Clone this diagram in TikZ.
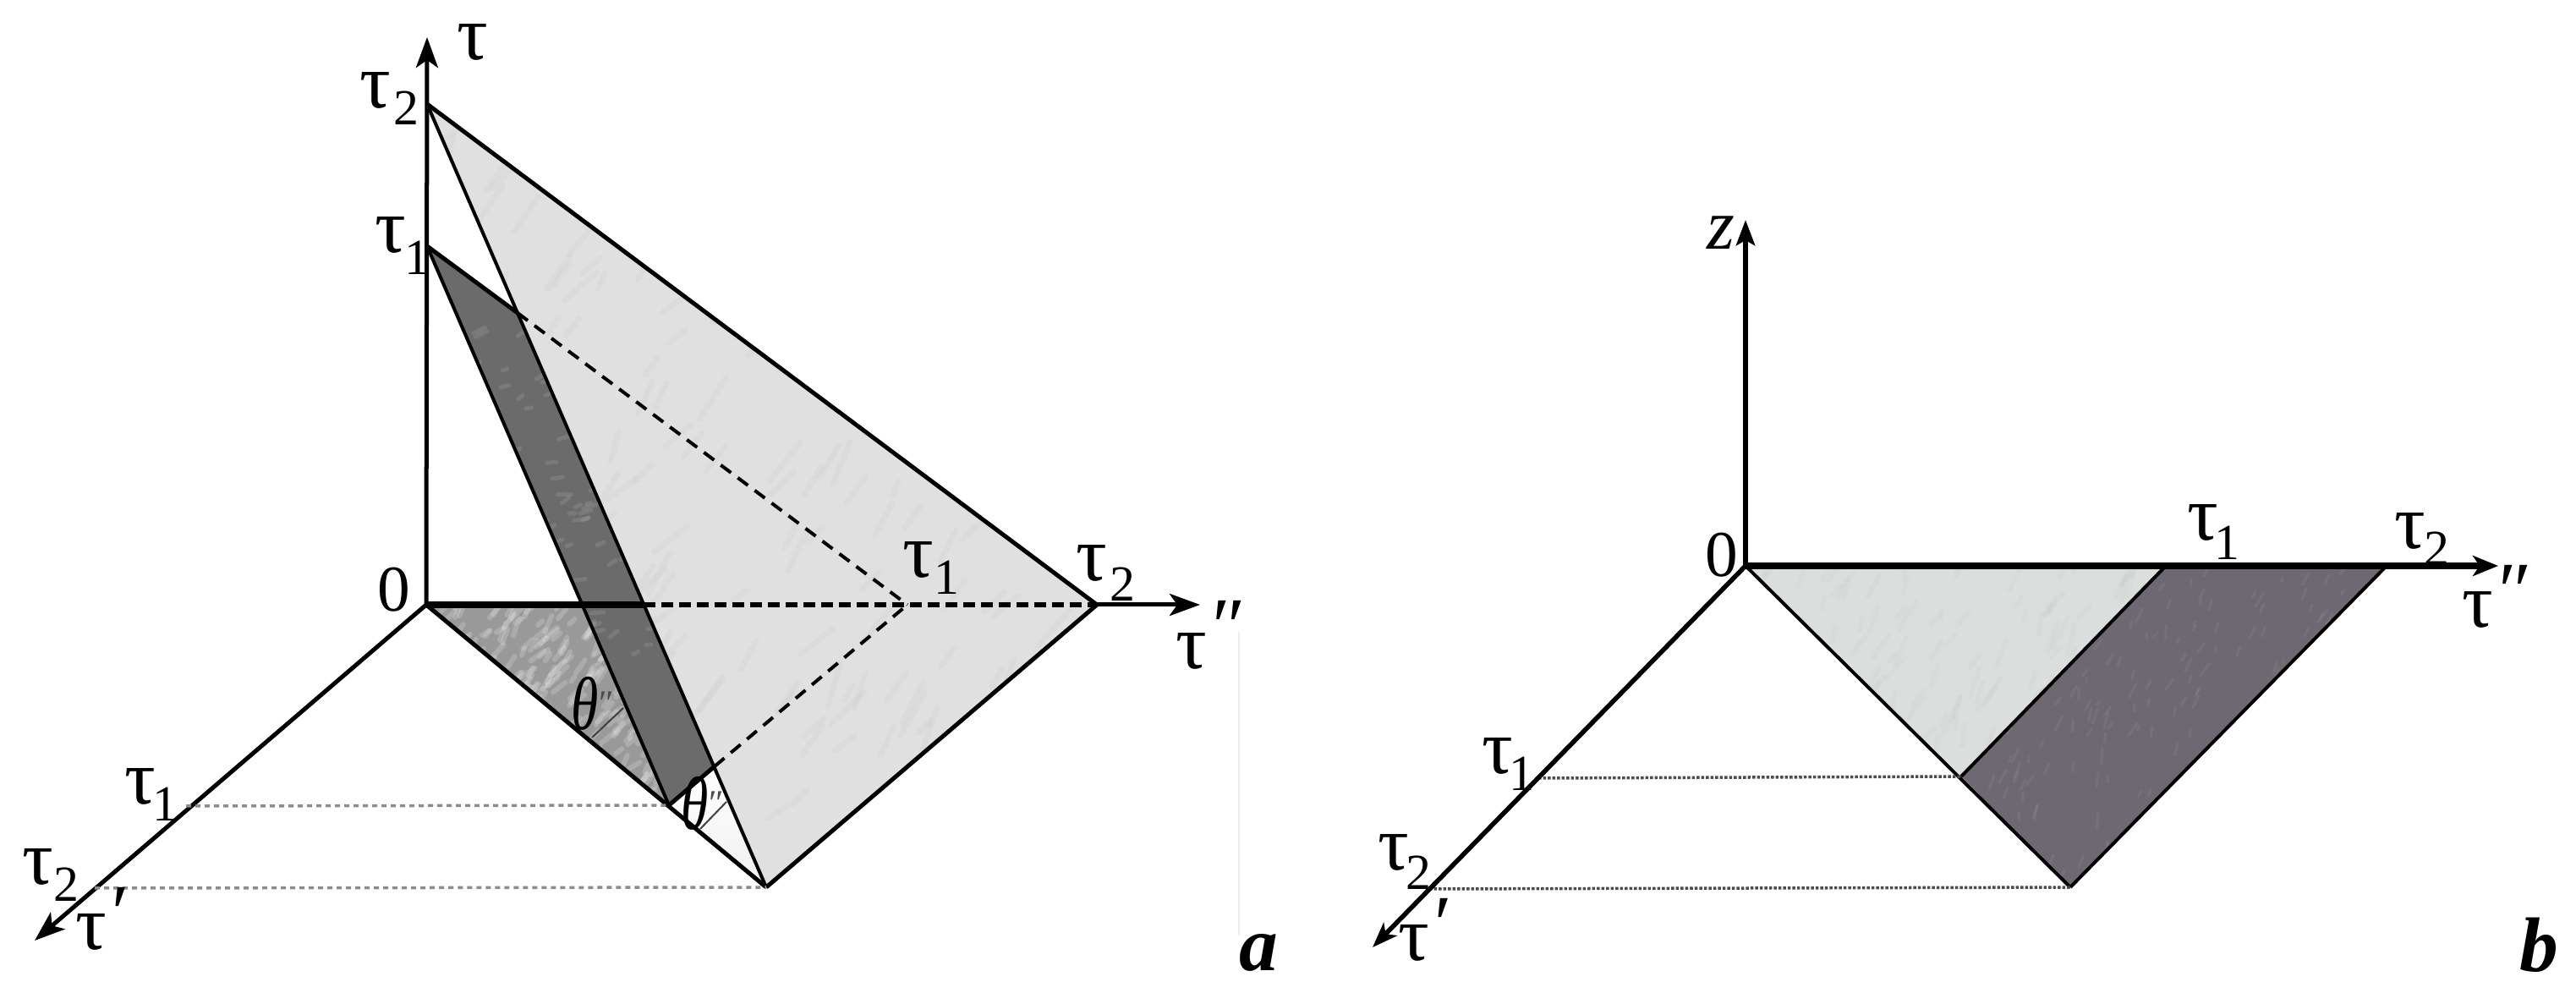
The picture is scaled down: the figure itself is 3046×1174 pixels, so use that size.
\documentclass[tikz,border=0pt]{standalone}
\usepackage{fontspec}
\setmainfont{Liberation Serif}
\usetikzlibrary{arrows.meta}
% tau with an attached index or prime, node centred on the tau itself
\newcommand{\tsub}[3]{τ\rlap{\hspace{#2}\smash{\raisebox{#3}{\fontsize{17}{18}\selectfont #1}}}}
\newcommand{\tpri}[3]{τ\rlap{\hspace{#2}\smash{\raisebox{#3}{\fontsize{27}{28}\selectfont\itshape #1}}}}
\newcommand{\thetalab}{\scalebox{0.85}[1.15]{\itshape θ}\rlap{\smash{\raisebox{5pt}{\fontsize{12}{12}\selectfont\color{black!70}″}}}}
% random streaks, to be used inside a clip
\newcommand{\streaks}[8]{%
  \foreach \k in {1,...,#1}{%
    \pgfmathsetmacro{\sx}{#2+rnd*#4}%
    \pgfmathsetmacro{\sy}{#3+rnd*#5}%
    \pgfmathsetmacro{\sl}{#7*(0.4+rnd)}%
    \pgfmathsetmacro{\sa}{#8+rnd*40-20}%
    \pgfmathsetmacro{\ex}{\sx+\sl*cos(\sa)}%
    \pgfmathsetmacro{\ey}{\sy-\sl*sin(\sa)}%
    \draw[#6,line cap=round] (\sx,\sy) -- (\ex,\ey);
  }}
\tikzset{
  x=0.01cm,y=-0.01cm,
  lab/.style={inner sep=0pt,font=\fontsize{26}{28}\selectfont},
  zero/.style={inner sep=0pt,font=\fontsize{22}{24}\selectfont},
  tag/.style={inner sep=0pt,font=\fontsize{26}{28}\selectfont\bfseries\itshape},
  edge/.style={line width=0.05cm,black,line join=round},
  thin edge/.style={line width=0.04cm,black,line join=round},
  axis/.style={line width=0.05cm,black,-{Stealth[length=0.36cm,width=0.26cm,inset=0.09cm]}},
  heavy/.style={line width=0.08cm,black},
  dashline/.style={line width=0.04cm,black,dash pattern=on 0.15cm off 0.1cm},
  heavydash/.style={line width=0.06cm,black,dash pattern=on 0.14cm off 0.07cm},
  dotgray/.style={line width=0.035cm,black!45,dash pattern=on 0.06cm off 0.05cm},
  dotdark/.style={line width=0.035cm,black!70,dash pattern=on 0.035cm off 0.02cm},
  tick/.style={line width=0.02cm,black!75},
}
\begin{document}
\begin{tikzpicture}
\pgfmathsetseed{11}
\useasboundingbox (0,0) rectangle (3046,1174);
%% ---------- panel a ----------
\coordinate (O) at (504,715);
\coordinate (Ztop) at (505,44);
\coordinate (T2) at (505,123);
\coordinate (T1) at (505,291);
\coordinate (X1) at (1073,715);
\coordinate (X2) at (1297,715);
\coordinate (Xend) at (1419,715);
\coordinate (P1) at (791,952);
\coordinate (P2) at (906,1049);
\coordinate (Q) at (845,906);
\coordinate (R) at (612,370);
\coordinate (M) at (688,715);
\coordinate (N) at (761,715);
\coordinate (Yend) at (41,1112);
\coordinate (A1) at (220,953);
\coordinate (A2) at (112,1050);
% big light plane
\begin{scope}
\clip (T2) -- (X2) -- (P2) -- cycle;
\fill[black!12] (T2) -- (X2) -- (P2) -- cycle;
\streaks{200}{520}{160}{760}{880}{black!40,opacity=0.06,line width=0.07cm}{45}{55}
\end{scope}
% light sliver
\begin{scope}
\clip (P1) -- (Q) -- (P2) -- cycle;
\shade[top color=white,bottom color=black!6] (P1) -- (Q) -- (P2) -- cycle;
\end{scope}
% mottled floor triangle
\begin{scope}
\clip (O) -- (M) -- (P1) -- cycle;
\fill[black!40] (O) -- (M) -- (P1) -- cycle;
\streaks{340}{510}{718}{290}{235}{white,opacity=0.18,line width=0.06cm}{16}{50}
\end{scope}
% dark strip
\begin{scope}
\clip (T1) -- (R) -- (Q) -- (P1) -- cycle;
\fill[black!58] (T1) -- (R) -- (Q) -- (P1) -- cycle;
\streaks{110}{520}{380}{250}{400}{white,opacity=0.10,line width=0.05cm}{12}{20}
\end{scope}
% edges
\draw[axis] (O) -- (Ztop);
\draw[thin edge] (T2) -- (P2);
\draw[thin edge] (T1) -- (P1);
\draw[edge] (T1) -- (R);
\draw[edge] (T2) -- (X2);
\draw[edge] (X2) -- (P2);
\draw[edge] (O) -- (P2);
\draw[edge] (P1) -- (Q);
\draw[dashline] (R) -- (X1);
\draw[dashline] (Q) -- (X1);
\draw[heavy] (O) -- (N);
\draw[heavydash] (N) -- (X2);
\draw[axis] (X2) -- (Xend);
\draw[axis] (O) -- (Yend);
\draw[dotgray] (A1) -- (P1);
\draw[dotgray] (A2) -- (P2);
\coordinate (Ta) at (700,872); \coordinate (Tb) at (737,837);
\coordinate (Tc) at (828,980); \coordinate (Td) at (859,948);
\draw[tick] (Ta) -- (Tb);
\draw[tick] (Tc) -- (Td);
\coordinate (Fa) at (1465,747); \coordinate (Fb) at (1465,1105);
\draw[black!8,line width=0.015cm] (Fa) -- (Fb);
% labels
\node[lab] (la0) at (559,50) {τ};
\node[lab] (la1) at (444,107) {\tsub{2}{1pt}{-5.7pt}};
\node[lab] (la2) at (462,278) {\tsub{1}{-0.5pt}{-7.4pt}};
\node[zero] (la3) at (466,697) {0};
\node[lab] (la4) at (166,930) {\tsub{1}{-1pt}{-5.7pt}};
\node[lab] (la5) at (45,1025) {\tsub{2}{0pt}{-5.7pt}};
\node[lab] (la6) at (108,1102) {\tpri{′}{0pt}{3pt}};
\node[lab] (la7) at (1086,662) {\tsub{1}{0pt}{-5.7pt}};
\node[lab] (la8) at (1291,666) {\tsub{2}{1pt}{-6.8pt}};
\node[lab] (la9) at (1409,770) {\tpri{″}{0pt}{5pt}};
\node[lab,font=\fontsize{22}{24}\selectfont] (lt1) at (692,832) {\thetalab};
\node[lab,font=\fontsize{22}{24}\selectfont] (lt2) at (822,950) {\thetalab};
\node[tag] (taga) at (1488,1126) {a};
%% ---------- panel b ----------
\coordinate (bO) at (2064,669);
\coordinate (bZ) at (2064,260);
\coordinate (bX1) at (2561,669);
\coordinate (bX2) at (2822,669);
\coordinate (bXe) at (2954,669);
\coordinate (bP1) at (2319,918);
\coordinate (bP2) at (2448,1049);
\coordinate (bA1) at (1819,920);
\coordinate (bA2) at (1690,1051);
\coordinate (bYe) at (1623,1120);
\begin{scope}
\clip (bO) -- (bX1) -- (bP1) -- cycle;
\fill[color={rgb,255:red,218;green,222;blue,220}] (bO) -- (bX1) -- (bP1) -- cycle;
\streaks{110}{2080}{675}{470}{240}{black!40,opacity=0.05,line width=0.06cm}{28}{65}
\end{scope}
\begin{scope}
\clip (bX1) -- (bX2) -- (bP2) -- (bP1) -- cycle;
\fill[color={rgb,255:red,110;green,104;blue,114}] (bX1) -- (bX2) -- (bP2) -- (bP1) -- cycle;
\streaks{260}{2320}{675}{510}{375}{white,opacity=0.06,line width=0.03cm}{14}{70}
\end{scope}
\draw[thin edge] (bO) -- (bP2);
\draw[thin edge] (bX1) -- (bP1);
\draw[thin edge] (bX2) -- (bP2);
\draw[dotdark] (bA1) -- (bP1);
\draw[dotdark] (bA2) -- (bP2);
\draw[line width=0.06cm,-{Stealth[length=0.3cm,width=0.22cm,inset=0.06cm]}] (bO) -- (bZ);
\draw[line width=0.085cm,-{Stealth[length=0.3cm,width=0.24cm,inset=0.08cm]}] (bO) -- (bXe);
\draw[line width=0.055cm,-{Stealth[length=0.3cm,width=0.22cm,inset=0.08cm]}] (bO) -- (bYe);
\node[zero] (lb0) at (2036,656) {0};
\node[lab,font=\fontsize{24}{26}\selectfont\itshape] (lb1) at (2035,275) {z};
\node[lab] (lb2) at (2605,618) {\tsub{1}{-1.5pt}{-6.5pt}};
\node[lab] (lb3) at (2850,628) {\tsub{2}{-0.5pt}{-5.7pt}};
\node[lab] (lb4) at (2930,721) {\tpri{″}{0pt}{3pt}};
\node[lab] (lb5) at (1771,894) {\tsub{1}{-1.5pt}{-5.7pt}};
\node[lab] (lb6) at (1648,1008) {\tsub{2}{-1pt}{-6.5pt}};
\node[lab] (lb7) at (1672,1115) {\tpri{′}{0pt}{3pt}};
\node[tag] (tagb) at (3002,1117) {b};
\end{tikzpicture}
\end{document}
